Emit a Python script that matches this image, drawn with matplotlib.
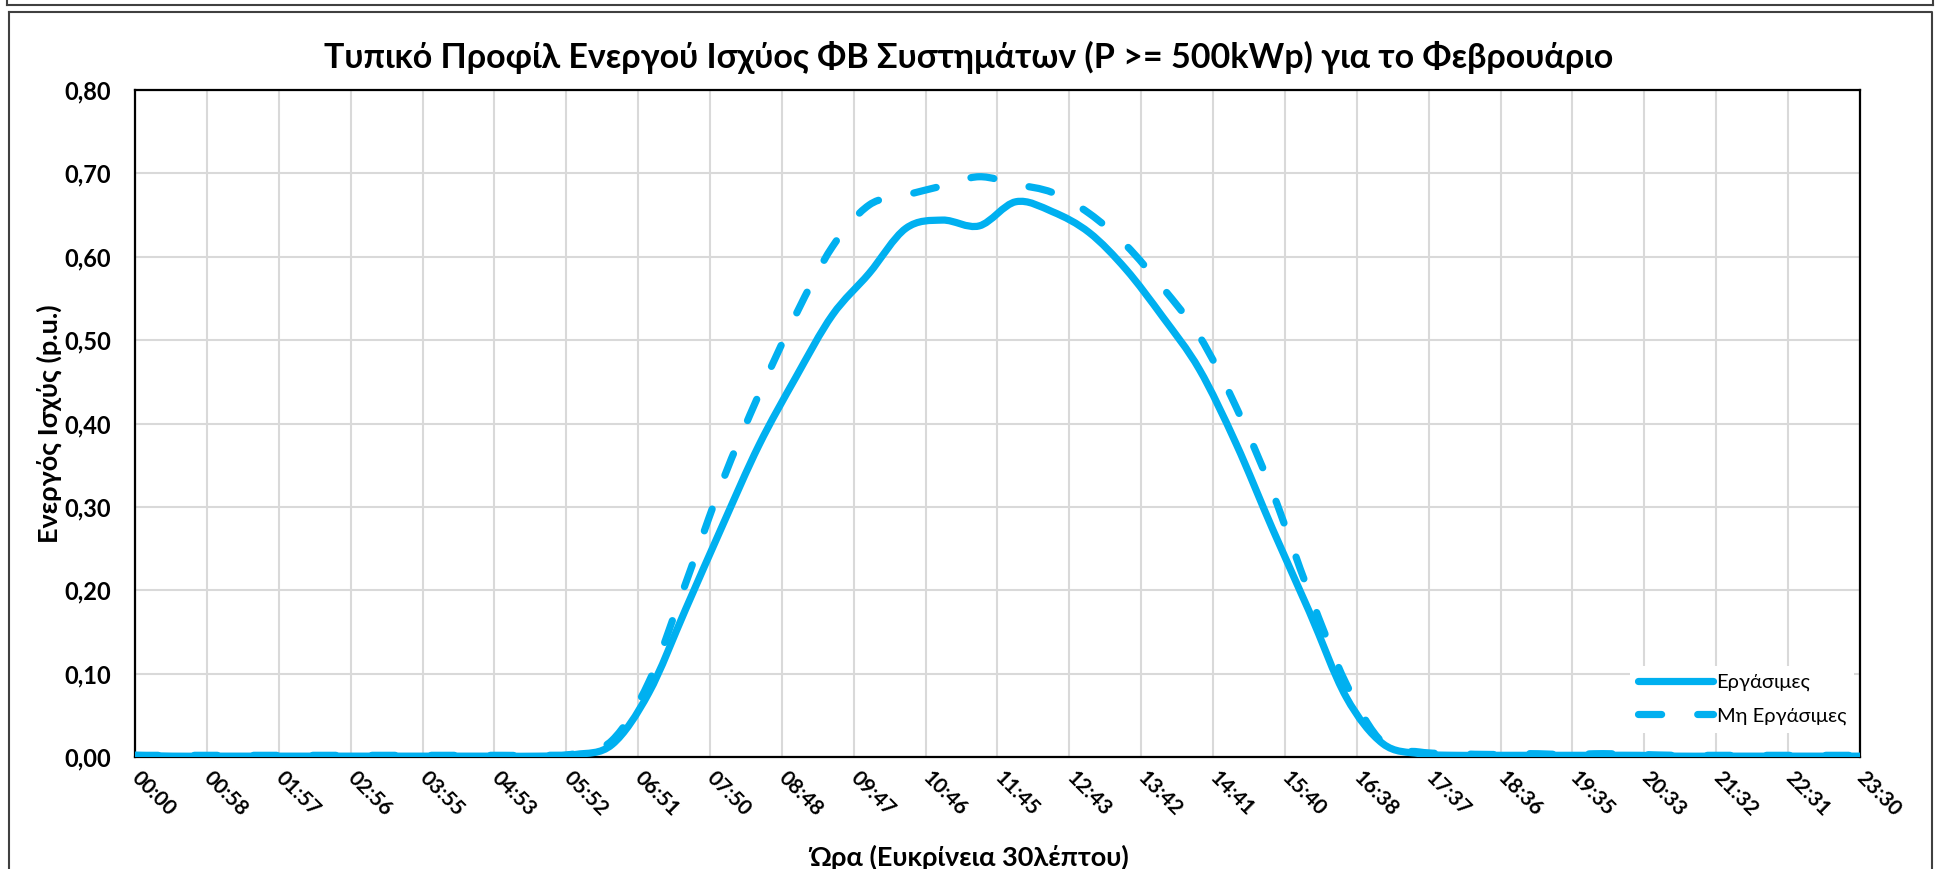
import numpy as np                          # numpy for the axis positions
import matplotlib
matplotlib.use('Agg')                       # no display, just write the png
import matplotlib.pyplot as plt
from matplotlib.path import Path
from matplotlib.patches import PathPatch
from matplotlib.lines import Line2D

plt.rcParams['font.family'] = ['Lato', 'DejaVu Sans']

# half hour steps, 00:00 .. 23:30 (in minutes)
minutes = np.arange(48) * 30

# active power p.u. on working days
workdays = [0.002, 0.001, 0.001, 0.001, 0.001, 0.001, 0.001, 0.001, 0.001, 0.001, 0.001, 0.001,
            0.003, 0.015, 0.077, 0.177, 0.277, 0.374, 0.455, 0.530, 0.580, 0.634, 0.644, 0.637,
            0.666, 0.654, 0.629, 0.585, 0.528, 0.465, 0.376, 0.273, 0.174, 0.072, 0.016, 0.004,
            0.002, 0.002, 0.002, 0.002, 0.002, 0.002, 0.001, 0.001, 0.001, 0.001, 0.001, 0.001]

# active power p.u. on non working days
holidays = [0.002, 0.002, 0.002, 0.002, 0.002, 0.002, 0.002, 0.002, 0.002, 0.002, 0.002, 0.002,
            0.004, 0.020, 0.090, 0.208, 0.330, 0.435, 0.530, 0.612, 0.662, 0.674, 0.685, 0.696,
            0.687, 0.677, 0.652, 0.614, 0.563, 0.505, 0.420, 0.317, 0.196, 0.088, 0.017, 0.006,
            0.004, 0.003, 0.004, 0.003, 0.004, 0.003, 0.002, 0.002, 0.002, 0.002, 0.002, 0.002]

series_names = ['Εργάσιμες', 'Μη Εργάσιμες']

xtick_labels = ['00:00', '00:58', '01:57', '02:56', '03:55', '04:53', '05:52', '06:51',
                '07:50', '08:48', '09:47', '10:46', '11:45', '12:43', '13:42', '14:41',
                '15:40', '16:38', '17:37', '18:36', '19:35', '20:33', '21:32', '22:31', '23:30']
yticks = [0.0, 0.1, 0.2, 0.3, 0.4, 0.5, 0.6, 0.7, 0.8]
ytick_labels = ['0,00', '0,10', '0,20', '0,30', '0,40', '0,50', '0,60', '0,70', '0,80']

blue = '#00B0F0'
dash = (0, (3.2, 5.0))
lw = 5.2


# bezier curve through the points, like the smoothed line of excel
def smooth_path(x, y):
    x = np.asarray(x, dtype=float)
    y = np.asarray(y, dtype=float)
    n = len(x)
    verts = [(x[0], y[0])]
    codes = [Path.MOVETO]
    for i in range(n - 1):
        a = max(i - 1, 0)
        b = min(i + 2, n - 1)
        c1 = (x[i] + (x[i + 1] - x[a]) / 6, y[i] + (y[i + 1] - y[a]) / 6)
        c2 = (x[i + 1] - (x[b] - x[i]) / 6, y[i + 1] - (y[b] - y[i]) / 6)
        verts += [c1, c2, (x[i + 1], y[i + 1])]
        codes += [Path.CURVE4] * 3
    return Path(verts, codes)


fig = plt.figure(figsize=(19.38, 8.69), dpi=100)
ax = fig.add_axes([0.0697, 0.1289, 0.8900, 0.7675])

# outer boxes like the excel sheet
fig.add_artist(Line2D([0.0036, 0.9975], [0.9945, 0.9945], color='#404040', lw=1.5))
fig.add_artist(Line2D([0.0036, 0.0036], [0.9945, 1.0], color='#404040', lw=1.5))
fig.add_artist(Line2D([0.9975, 0.9975], [0.9945, 1.0], color='#404040', lw=1.5))
fig.add_artist(Line2D([0.0046, 0.9970, 0.9970], [0.986, 0.986, 0.0], color='#404040', lw=1.5))
fig.add_artist(Line2D([0.0046, 0.0046], [0.986, 0.0], color='#404040', lw=1.5))

ax.add_patch(PathPatch(smooth_path(minutes, workdays), fill=False, edgecolor=blue, lw=lw,
                       capstyle='round', joinstyle='round', zorder=3))
ax.add_patch(PathPatch(smooth_path(minutes, holidays), fill=False, edgecolor=blue, lw=lw,
                       linestyle=dash, capstyle='round', joinstyle='round', zorder=3))

ax.set_xlim(0, 1410)
ax.set_ylim(0, 0.8)
ax.set_xticks(np.linspace(0, 1410, 25))
ax.set_xticklabels(xtick_labels, rotation=-45, ha='left', va='center',
                   rotation_mode='anchor', fontsize=15, fontweight='bold')
ax.set_yticks(yticks)
ax.set_yticklabels(ytick_labels, fontsize=17, fontweight='bold')
ax.tick_params(axis='x', length=0, pad=13)
ax.tick_params(axis='y', length=0, pad=17)
ax.grid(True, color='#d9d9d9', lw=1.5)
ax.set_axisbelow(True)
for s in ax.spines.values():
    s.set_color('black')
    s.set_linewidth(1.6)

fig.text(0.5, 0.934, 'Τυπικό Προφίλ Ενεργού Ισχύος ΦΒ Συστημάτων (P >= 500kWp) για το Φεβρουάριο',
         ha='center', va='center', fontsize=24.5, fontweight='bold')
fig.text(0.5, 0.014, 'Ώρα (Ευκρίνεια 30λέπτου)', ha='center', va='center',
         fontsize=19.5, fontweight='bold')
fig.text(0.0255, 0.5125, 'Ενεργός Ισχύς (p.u.)', ha='center', va='center', rotation=90,
         fontsize=19.5, fontweight='bold')

handles = [Line2D([], [], color=blue, lw=lw, solid_capstyle='round'),
           Line2D([], [], color=blue, lw=lw, ls=dash, dash_capstyle='round')]
leg = ax.legend(handles, series_names, loc='lower right', bbox_to_anchor=(0.999, 0.03),
                fontsize=14.5, handlelength=3.7, handletextpad=0.2, labelspacing=0.8,
                frameon=True, fancybox=False, framealpha=1, borderaxespad=0.2)
leg.get_frame().set_facecolor('white')
leg.get_frame().set_edgecolor('none')

fig.savefig('out.png', dpi=100)
